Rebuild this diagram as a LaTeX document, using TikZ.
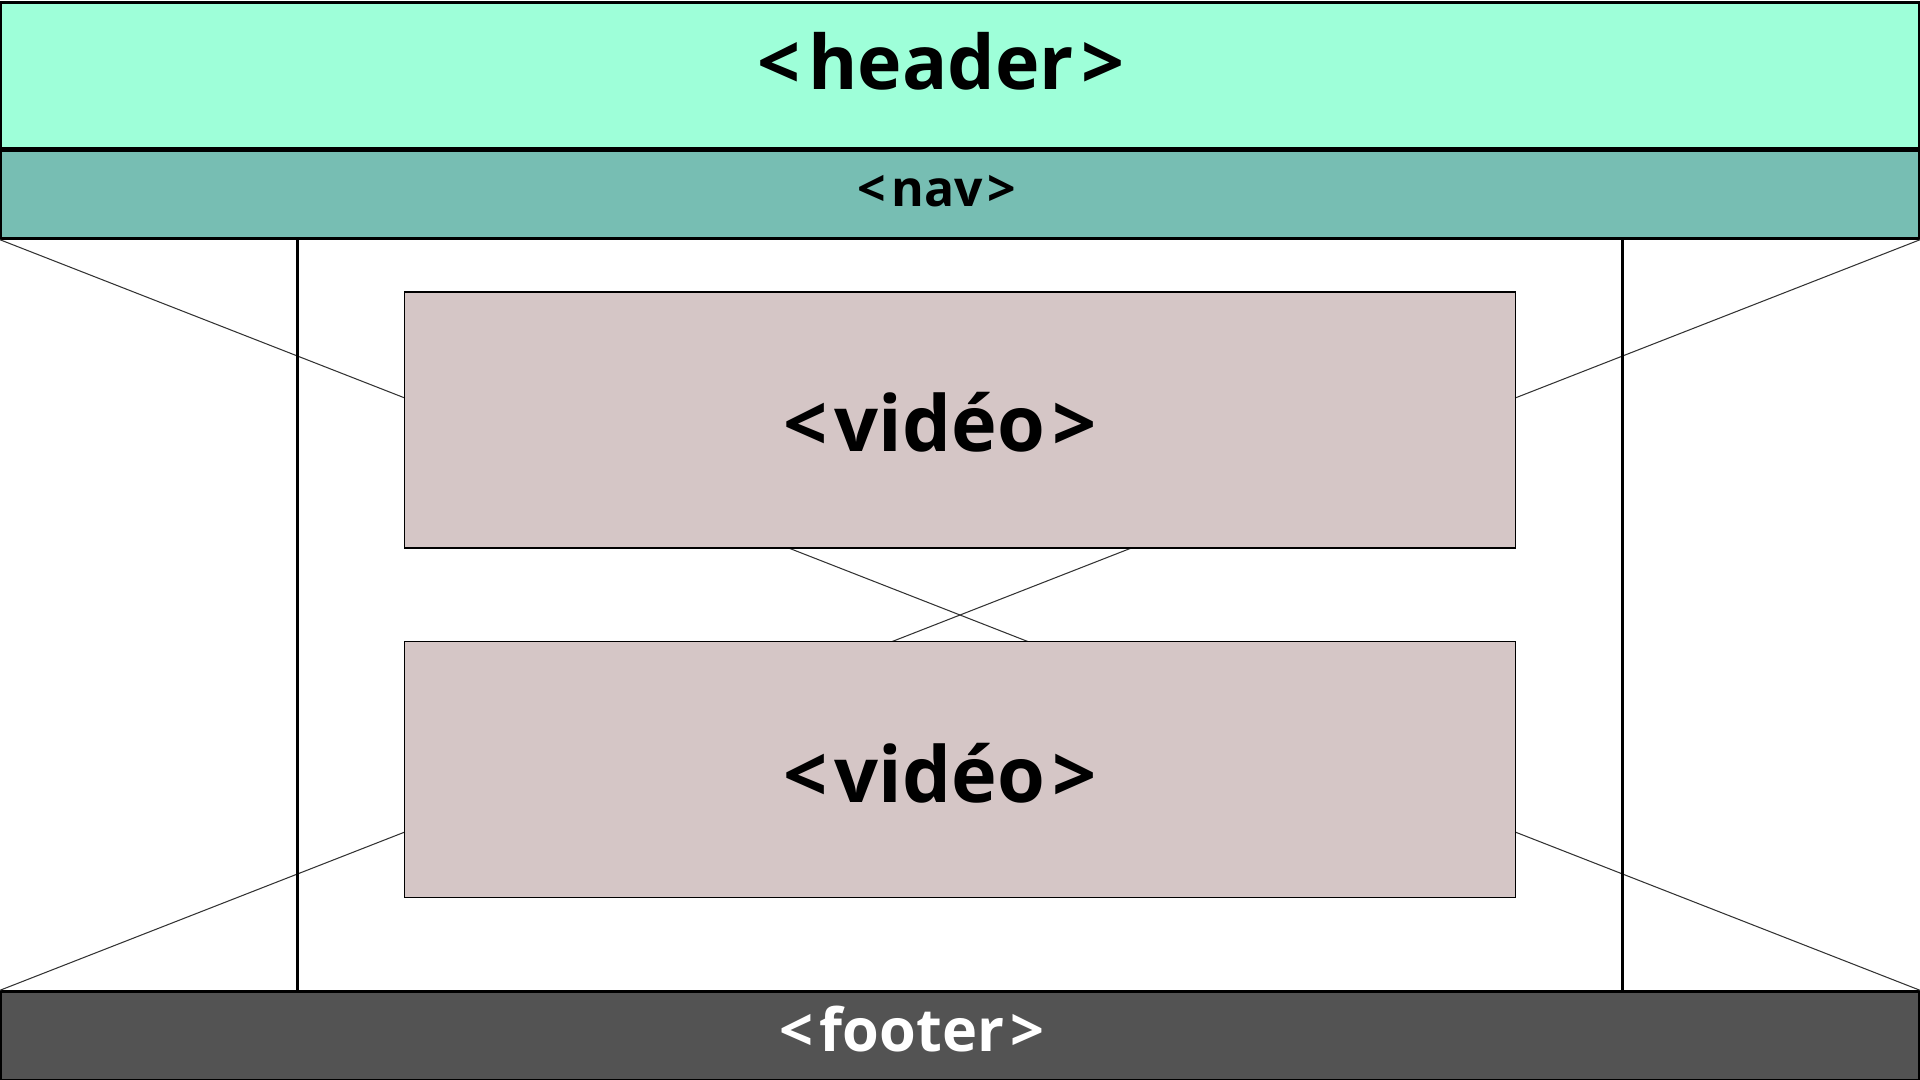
\documentclass[tikz,border=0pt]{standalone}
\usepackage{fontspec}
\setmainfont{Open Sans}
\usepackage{tikz}
\definecolor{headergreen}{HTML}{9EFFD9}
\definecolor{navteal}{HTML}{77BEB3}
\definecolor{videorose}{HTML}{D5C6C6}
\definecolor{footergrey}{HTML}{535353}
\newcommand{\htmltag}[1]{<\kern.1em#1\kern.1em>}
\tikzstyle{band} = [draw, line width=0.85pt, inner sep=0pt, minimum width=19.17cm, anchor=north]
\tikzstyle{videobox} = [draw, line width=0.35pt, fill=videorose, inner sep=0pt, minimum width=11.1cm, minimum height=2.56cm]
\tikzstyle{tag} = [anchor=base, inner sep=0pt]
\tikzstyle{cross} = [line width=0.3pt, black!80]
\tikzstyle{column} = [line width=0.85pt]
\usetikzlibrary{positioning}

\begin{document}
\begin{tikzpicture}[x=0.01cm, y=-0.01cm]
            \useasboundingbox (0,0) rectangle (1920,1080);
            \node (header) [band, fill=headergreen, minimum height=1.45cm] at (960,1.5) {};
            \node (nav) [band, fill=navteal, minimum height=0.87cm] at (960,149.5) {};
            \node (footer) [band, fill=footergrey, minimum height=0.88cm] at (960,990.5) {};

            \draw[cross] (nav.south west) -- (footer.north east);
            \draw[cross] (nav.south east) -- (footer.north west);
            \draw[column] ([xshift=-6.62cm]nav.south) -- ([xshift=-6.62cm]footer.north);
            \draw[column] ([xshift=6.62cm]nav.south) -- ([xshift=6.62cm]footer.north);

            \node (video_top) [videobox] at (960,420) {};
            \node (video_bottom) [videobox, below=0.92cm of video_top] {};

            \node (header_tag) [tag, font=\fontsize{21.4}{26}\bfseries] at ([shift={(-19,14)}]header.center) {\htmltag{header}};
            \node (nav_tag) [tag, font=\fontsize{14.2}{17}\bfseries] at ([shift={(-23,12)}]nav.center) {\htmltag{nav}};
            \node (video_top_tag) [tag, font=\fontsize{22}{27}\bfseries] at ([shift={(-20,32)}]video_top.center) {\htmltag{vidéo}};
            \node (video_bottom_tag) [tag, font=\fontsize{22}{27}\bfseries] at ([shift={(-20,33)}]video_bottom.center) {\htmltag{vidéo}};
            \node (footer_tag) [tag, text=white, font=\fontsize{16.9}{20}\bfseries] at ([shift={(-48,15.5)}]footer.center) {\htmltag{footer}};
        \end{tikzpicture}
\end{document}
